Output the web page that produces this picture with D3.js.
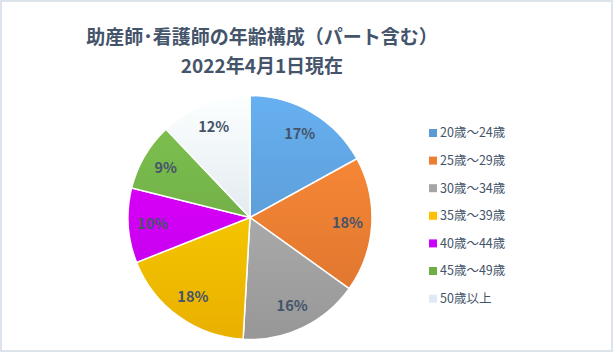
<!DOCTYPE html>
<html>
<head>
<meta charset="utf-8">
<script src="https://cdn.jsdelivr.net/npm/d3@7"></script>
<style>
  body { margin: 0; background: #fff; }
  svg { display: block; font-family: "Noto Sans CJK JP", "Noto Sans", sans-serif; }
</style>
</head>
<body>
<div id="chart"></div>
<script>
// Data
var categories = ["20歳～24歳", "25歳～29歳", "30歳～34歳", "35歳～39歳", "40歳～44歳", "45歳～49歳", "50歳以上"];
var values = [17.0, 17.9, 16.0, 18.1, 9.9, 9.0, 12.1];
var colors = ["#5b9bd5", "#ed7d31", "#a5a5a5", "#ffc000", "#cc00ff", "#70ad47", "#deebf7"];
var titleLines = ["助産師･看護師の年齢構成（パート含む）", "2022年4月1日現在"];

var width = 613, height = 352;
var cx = 250, cy = 217.5, radius = 122;

var svg = d3.select("#chart").append("svg")
    .attr("width", width)
    .attr("height", height);

// chart border
svg.append("rect")
    .attr("x", 1).attr("y", 1)
    .attr("width", width - 2).attr("height", height - 2)
    .style("fill", "#fff")
    .style("stroke", "#dde3ea")
    .style("stroke-width", 2);

// title
svg.selectAll(".title")
    .data(titleLines)
    .enter()
    .append("text")
    .attr("class", "title")
    .attr("x", 262)
    .attr("y", function (d, i) { return 44 + i * 29; })
    .attr("text-anchor", "middle")
    .style("font-size", "19px")
    .style("font-weight", "bold")
    .style("fill", "#44546a")
    .text(function (d) { return d; });

// gradients, lighter at top like Excel (coords relative to pie group)
var defs = svg.append("defs");
colors.forEach(function (c, i) {
    var grad = defs.append("linearGradient")
        .attr("id", "grad" + i)
        .attr("gradientUnits", "userSpaceOnUse")
        .attr("x1", 0).attr("y1", -radius)
        .attr("x2", 0).attr("y2", radius);
    grad.append("stop").attr("offset", "0%").attr("stop-color", d3.color(c).brighter(0.35));
    grad.append("stop").attr("offset", "100%").attr("stop-color", d3.color(c).darker(0.25));
});

var pie = d3.pie().sort(null).value(function (d) { return d; });
var arc = d3.arc().innerRadius(0).outerRadius(radius);
var labelArc = d3.arc().innerRadius(radius * 0.8).outerRadius(radius * 0.8);

var g = svg.append("g").attr("transform", "translate(" + cx + "," + cy + ")");

g.selectAll("path")
    .data(pie(values))
    .enter()
    .append("path")
    .attr("d", arc)
    .style("fill", function (d, i) { return "url(#grad" + i + ")"; })
    .style("stroke", "#fff")
    .style("stroke-width", 1.5);

g.selectAll(".lbl")
    .data(pie(values))
    .enter()
    .append("text")
    .attr("class", "lbl")
    .attr("transform", function (d) { return "translate(" + labelArc.centroid(d) + ")"; })
    .attr("text-anchor", "middle")
    .attr("dy", "0.35em")
    .style("font-size", "14.5px")
    .style("font-weight", "bold")
    .style("fill", "#44546a")
    .text(function (d) { return Math.round(d.data) + "%"; });

// legend
var legend = svg.append("g").attr("transform", "translate(429,133)");
var rows = legend.selectAll("g")
    .data(categories)
    .enter()
    .append("g")
    .attr("transform", function (d, i) { return "translate(0," + (i * 27.6) + ")"; });
rows.append("rect")
    .attr("x", 0).attr("y", -4)
    .attr("width", 8).attr("height", 8)
    .style("fill", function (d, i) { return colors[i]; });
rows.append("text")
    .attr("x", 11)
    .attr("dy", "0.35em")
    .style("font-size", "12.5px")
    .style("fill", "#44546a")
    .text(function (d) { return d; });
</script>
</body>
</html>
